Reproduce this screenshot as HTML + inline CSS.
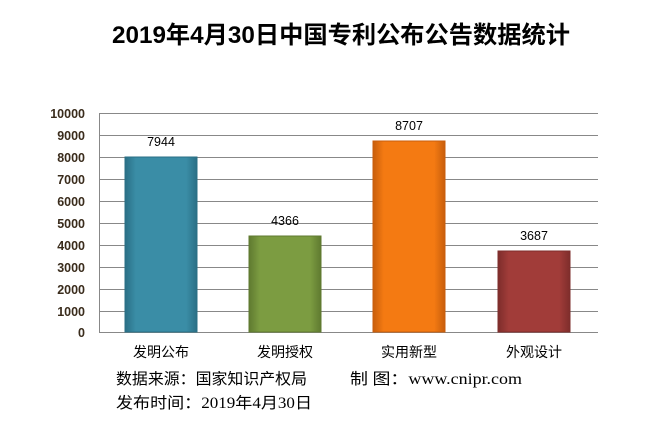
<!DOCTYPE html>
<html><head><meta charset="utf-8"><style>
body{margin:0;width:650px;height:428px;background:#fff;overflow:hidden;font-family:"Liberation Sans","Noto Sans CJK SC",sans-serif;}
</style></head><body>
<svg width="650" height="428" xmlns="http://www.w3.org/2000/svg">
<defs>
<linearGradient id="b" x1="0" x2="1"><stop offset="0" stop-color="#2a6f85"/><stop offset=".15" stop-color="#3a8da6"/><stop offset=".85" stop-color="#3a8da6"/><stop offset="1" stop-color="#2a6f85"/></linearGradient>
<linearGradient id="g" x1="0" x2="1"><stop offset="0" stop-color="#5f7a30"/><stop offset=".15" stop-color="#7c9c41"/><stop offset=".85" stop-color="#7c9c41"/><stop offset="1" stop-color="#5f7a30"/></linearGradient>
<linearGradient id="o" x1="0" x2="1"><stop offset="0" stop-color="#c85e0c"/><stop offset=".15" stop-color="#f47a12"/><stop offset=".85" stop-color="#f47a12"/><stop offset="1" stop-color="#c85e0c"/></linearGradient>
<linearGradient id="r" x1="0" x2="1"><stop offset="0" stop-color="#7e2d2b"/><stop offset=".15" stop-color="#a13c39"/><stop offset=".85" stop-color="#a13c39"/><stop offset="1" stop-color="#7e2d2b"/></linearGradient>
</defs>
<text x="341" y="43" text-anchor="middle" font-size="24" font-weight="bold" fill="#000" textLength="458" lengthAdjust="spacingAndGlyphs">2019年4月30日中国专利公布公告数据统计</text>
<g stroke="#888" stroke-width="1">
<line x1="99" y1="113.5" x2="598" y2="113.5"/><line x1="99" y1="135.5" x2="598" y2="135.5"/><line x1="99" y1="157.5" x2="598" y2="157.5"/><line x1="99" y1="179.5" x2="598" y2="179.5"/><line x1="99" y1="201.5" x2="598" y2="201.5"/><line x1="99" y1="223.5" x2="598" y2="223.5"/><line x1="99" y1="245.5" x2="598" y2="245.5"/><line x1="99" y1="267.5" x2="598" y2="267.5"/><line x1="99" y1="289.5" x2="598" y2="289.5"/><line x1="99" y1="311.5" x2="598" y2="311.5"/><line x1="99" y1="332.5" x2="598" y2="332.5"/>
<line x1="99.5" y1="113" x2="99.5" y2="333"/>
</g>
<g font-size="12.5" font-weight="bold" fill="#3a2c1c" text-anchor="end">
<text x="85" y="118">10000</text><text x="85" y="140">9000</text><text x="85" y="162">8000</text><text x="85" y="184">7000</text><text x="85" y="206">6000</text><text x="85" y="228">5000</text><text x="85" y="250">4000</text><text x="85" y="272">3000</text><text x="85" y="294">2000</text><text x="85" y="316">1000</text><text x="85" y="337">0</text>
</g>
<rect x="125" y="157" width="72" height="175" fill="url(#b)" stroke="#2a6f85"/>
<rect x="249" y="236" width="72" height="96" fill="url(#g)" stroke="#5f7a30"/>
<rect x="373" y="141" width="72" height="191" fill="url(#o)" stroke="#c85e0c"/>
<rect x="498" y="251" width="72" height="81" fill="url(#r)" stroke="#7e2d2b"/>
<g font-size="12.5" fill="#000" text-anchor="middle">
<text x="161" y="146">7944</text><text x="285" y="225">4366</text><text x="409" y="130">8707</text><text x="534" y="240">3687</text>
</g>
<g font-size="14" fill="#000" text-anchor="middle">
<text x="161" y="357">发明公布</text><text x="285" y="357">发明授权</text><text x="409" y="357">实用新型</text><text x="534" y="357">外观设计</text>
</g>
<g font-size="15.5" fill="#000" font-family="'Liberation Serif','Noto Sans CJK SC',serif">
<text x="116" y="384" textLength="191" lengthAdjust="spacingAndGlyphs">数据来源：国家知识产权局</text>
<text x="350" y="384" textLength="172" lengthAdjust="spacingAndGlyphs">制 图：www.cnipr.com</text>
<text x="116" y="408" textLength="196" lengthAdjust="spacingAndGlyphs">发布时间：2019年4月30日</text>
</g>
</svg>
</body></html>
